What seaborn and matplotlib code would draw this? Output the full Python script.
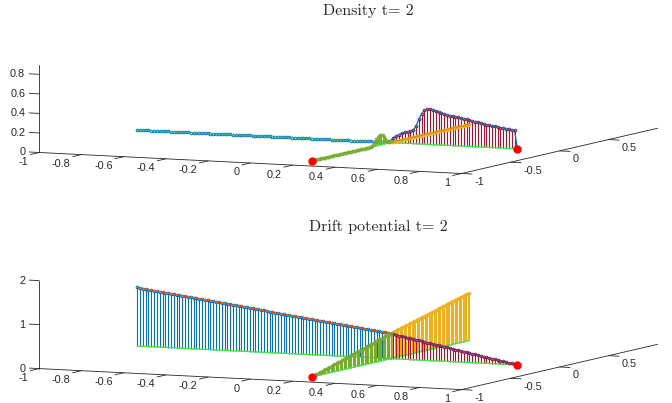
import numpy as np
import matplotlib
matplotlib.use("Agg")
import matplotlib.pyplot as plt
import matplotlib.transforms as mtransforms
from mpl_toolkits.mplot3d import proj3d
from mpl_toolkits.mplot3d.art3d import Line3DCollection
import seaborn as sns

sns.set_theme(style="white")
plt.rcParams["font.family"] = ["Liberation Sans", "DejaVu Sans"]

# star graph: junction at (0.2, 0), four edges
blue_x = np.linspace(-1.0, 0.2, 91)      # (-1,0) -> junction
red_x = np.linspace(0.2, 0.8, 46)        # junction -> exit (0.8,0)
green_y = np.linspace(-0.8, 0.0, 61)     # exit (0.2,-0.8) -> junction
orange_y = np.linspace(0.0, 0.8, 61)     # junction -> (0.2,0.8)
exit_x = [0.2, 0.8]
exit_y = [-0.8, 0.0]

# density at t = 2
dens_blue = [0, 0, 0, 0, 0, 0, 0, 0, 0, 0, 0, 0, 0,
             0, 0, 0, 0, 0, 0, 0, 0, 0, 0, 0, 0, 0,
             0, 0, 0, 0, 0, 0, 0, 0, 0, 0, 0, 0, 0,
             0, 0, 0, 0, 0, 0, 0, 0, 0, 0, 0, 0, 0,
             0, 0, 0, 0, 0, 0, 0, 0, 0, 0, 0, 0, 0,
             0, 0, 0, 0, 0, 0, 0, 0, 0, 0, 0, 0, 0,
             0, 0, 0, 0, 0, 0, 0, 0, 0, 0.005, 0.01, 0.015, 0.02]
dens_red = [0.02, 0.05, 0.07, 0.085, 0.10, 0.11, 0.12, 0.125, 0.135, 0.18,
            0.25, 0.31, 0.35, 0.36, 0.36, 0.355, 0.345, 0.335, 0.325, 0.318,
            0.312, 0.305, 0.30, 0.295, 0.29, 0.285, 0.28, 0.274, 0.268, 0.262,
            0.256, 0.25, 0.244, 0.238, 0.232, 0.226, 0.221, 0.217, 0.213, 0.209,
            0.205, 0.201, 0.197, 0.193, 0.19, 0.0]
dens_green = [0, 0, 0, 0, 0, 0, 0, 0, 0, 0,
              0, 0, 0, 0, 0, 0, 0, 0, 0, 0,
              0, 0, 0, 0, 0, 0, 0, 0, 0, 0,
              0, 0, 0, 0, 0, 0, 0, 0, 0, 0,
              0, 0, 0, 0, 0, 0, 0.01, 0.025, 0.045, 0.065,
              0.08, 0.095, 0.10, 0.10, 0.09, 0.07, 0.045, 0.02, 0.01, 0.01,
              0.02]
dens_orange = [0, 0, 0, 0, 0, 0, 0, 0, 0, 0,
               0, 0, 0, 0, 0, 0, 0, 0, 0, 0,
               0, 0, 0, 0, 0, 0, 0, 0, 0, 0,
               0, 0, 0, 0, 0, 0, 0, 0, 0, 0,
               0, 0, 0, 0, 0, 0, 0, 0, 0, 0,
               0, 0, 0, 0, 0, 0, 0, 0, 0, 0,
               0]

# drift potential at t = 2
pot_blue = [1.330, 1.322, 1.313, 1.305, 1.296, 1.288, 1.279, 1.271, 1.262, 1.254,
            1.246, 1.237, 1.229, 1.220, 1.212, 1.203, 1.195, 1.186, 1.178, 1.170,
            1.161, 1.153, 1.144, 1.136, 1.127, 1.119, 1.110, 1.102, 1.094, 1.085,
            1.077, 1.068, 1.060, 1.051, 1.043, 1.034, 1.026, 1.018, 1.009, 1.001,
            0.992, 0.984, 0.975, 0.967, 0.958, 0.950, 0.942, 0.933, 0.925, 0.916,
            0.908, 0.899, 0.891, 0.882, 0.874, 0.866, 0.857, 0.849, 0.840, 0.832,
            0.823, 0.815, 0.806, 0.798, 0.790, 0.781, 0.773, 0.764, 0.756, 0.747,
            0.739, 0.730, 0.722, 0.714, 0.705, 0.697, 0.688, 0.680, 0.671, 0.663,
            0.654, 0.646, 0.638, 0.629, 0.621, 0.612, 0.604, 0.595, 0.587, 0.578,
            0.570]
pot_red = [0.570, 0.557, 0.545, 0.532, 0.519, 0.507, 0.494, 0.481, 0.469, 0.456,
           0.443, 0.431, 0.418, 0.405, 0.393, 0.380, 0.367, 0.355, 0.342, 0.329,
           0.317, 0.304, 0.291, 0.279, 0.266, 0.253, 0.241, 0.228, 0.215, 0.203,
           0.190, 0.177, 0.165, 0.152, 0.139, 0.127, 0.114, 0.101, 0.089, 0.076,
           0.063, 0.051, 0.038, 0.025, 0.013, 0.000]
pot_green = [0.000, 0.010, 0.019, 0.029, 0.038, 0.048, 0.057, 0.067, 0.076, 0.086,
             0.095, 0.105, 0.114, 0.124, 0.133, 0.143, 0.152, 0.162, 0.171, 0.181,
             0.190, 0.200, 0.209, 0.219, 0.228, 0.238, 0.247, 0.257, 0.266, 0.276,
             0.285, 0.295, 0.304, 0.314, 0.323, 0.333, 0.342, 0.352, 0.361, 0.371,
             0.380, 0.390, 0.399, 0.409, 0.418, 0.428, 0.437, 0.447, 0.456, 0.466,
             0.475, 0.485, 0.494, 0.504, 0.513, 0.523, 0.532, 0.542, 0.551, 0.561,
             0.570]
pot_orange = [0.570, 0.579, 0.587, 0.596, 0.604, 0.613, 0.621, 0.630, 0.638, 0.647,
              0.655, 0.664, 0.672, 0.681, 0.689, 0.698, 0.706, 0.715, 0.723, 0.732,
              0.740, 0.749, 0.757, 0.766, 0.774, 0.783, 0.791, 0.800, 0.808, 0.817,
              0.825, 0.834, 0.842, 0.851, 0.859, 0.868, 0.876, 0.885, 0.893, 0.902,
              0.910, 0.919, 0.927, 0.936, 0.944, 0.953, 0.961, 0.970, 0.978, 0.987,
              0.995, 1.004, 1.012, 1.021, 1.029, 1.038, 1.046, 1.055, 1.063, 1.072,
              1.080]

x_ticks = [-1, -0.8, -0.6, -0.4, -0.2, 0, 0.2, 0.4, 0.6, 0.8, 1]
x_tick_labels = ["-1", "-0.8", "-0.6", "-0.4", "-0.2", "0", "0.2", "0.4", "0.6", "0.8", "1"]
y_ticks = [-1, -0.5, 0, 0.5]
y_tick_labels = ["-1", "-0.5", "0", "0.5"]
z_ticks_dens = [0, 0.2, 0.4, 0.6, 0.8]
z_labels_dens = ["0", "0.2", "0.4", "0.6", "0.8"]
z_ticks_pot = [0, 1, 2]
z_labels_pot = ["0", "1", "2"]

c_blue, c_red, c_green, c_orange = "#0072BD", "#A2142F", "#77AC30", "#EDB120"
c_base = "#3ee63e"
c_axis = "#262626"

fig = plt.figure(figsize=(6.72, 4.03), dpi=100)
W = 645.0


def make_axes(cx, cy, zmax):
    left = cx - 0.5135 * W
    bottom = (403 - cy) - 0.5135 * W
    ax = fig.add_axes([left / 672, bottom / 403, W / 672, W / 403],
                      projection="3d", computed_zorder=False)
    ax.set_proj_type("ortho")
    ax.view_init(elev=6.15, azim=-65.1)
    ax.set_box_aspect((1, 1, 0.19), zoom=1.0)
    ax.set_xlim(-1, 1)
    ax.set_ylim(-1, 1)
    ax.set_zlim(0, zmax)
    ax.set_axis_off()
    ax.patch.set_facecolor("none")
    return ax


def tick_label(ax, x, y, z, s, dx, dy, ha):
    # place the label in the projected 2D plane of the 3D axes
    px, py, _ = proj3d.proj_transform(x, y, z, ax.get_proj())
    tr = mtransforms.offset_copy(ax.transData, fig=fig, x=dx, y=dy, units="dots")
    ax.text2D(px, py, s, transform=tr, ha=ha, va="center", fontsize=7.8, color=c_axis)


def frame(ax, zmax, zt, zl):
    kw = dict(color=c_axis, lw=0.6, zorder=1)
    ax.plot([-1, 1], [-1, -1], [0, 0], **kw)
    ax.plot([1, 1], [-1, 1], [0, 0], **kw)
    ax.plot([-1, -1], [-1, -1], [0, zmax], **kw)
    for t, s in zip(x_ticks, x_tick_labels):
        ax.plot([t, t], [-1, -1.09], [0, 0], **kw)
        tick_label(ax, t, -1, 0, s, -11, -9.5, "right")
    for t, s in zip(y_ticks, y_tick_labels):
        ax.plot([1, 1.05], [t, t], [0, 0], **kw)
        tick_label(ax, 1, t, 0, s, 13, -8.5, "left")
    for t, s in zip(zt, zl):
        ax.plot([-1, -1.047], [-1, -1], [t, t], **kw)
        tick_label(ax, -1, -1, t, s, -14, 0, "right")


def edge(ax, xs, ys, zs, c_stem, c_line, zo):
    xs = np.asarray(xs, float)
    ys = np.asarray(ys, float)
    zs = np.asarray(zs, float)
    segs = [[(a, b, 0.0), (a, b, c)] for a, b, c in zip(xs, ys, zs)]
    ax.add_collection3d(Line3DCollection(segs, colors=c_stem, linewidths=0.8, zorder=zo))
    ax.plot(xs, ys, np.zeros_like(zs), color=c_base, lw=1.0, zorder=zo + 0.1)
    ax.plot(xs, ys, zs, ls="none", marker="o", ms=1.9, mfc="none", mec=c_stem, mew=0.7,
            zorder=zo + 0.2)
    ax.plot(xs, ys, zs, color=c_line, lw=0.9, zorder=zo + 0.3)


# density
ax1 = make_axes(348.4, 96.4, 0.9)
frame(ax1, 0.9, z_ticks_dens, z_labels_dens)
edge(ax1, blue_x, np.zeros(len(blue_x)), dens_blue, c_blue, "#3aa6a0", 2)
edge(ax1, red_x, np.zeros(len(red_x)), dens_red, c_red, c_blue, 3)
edge(ax1, np.full(len(green_y), 0.2), green_y, dens_green, c_green, c_green, 5)
edge(ax1, np.full(len(orange_y), 0.2), orange_y, dens_orange, c_orange, "#D98A1C", 4)
ax1.plot(exit_x, exit_y, [0, 0], ls="none", marker="o", ms=5, color="red", zorder=10)

# drift potential
ax2 = make_axes(348.4, 312.5, 2.0)
frame(ax2, 2.0, z_ticks_pot, z_labels_pot)
edge(ax2, np.full(len(orange_y), 0.2), orange_y, pot_orange, c_orange, c_orange, 2)
edge(ax2, blue_x, np.zeros(len(blue_x)), pot_blue, c_blue, "#D95319", 3)
edge(ax2, red_x, np.zeros(len(red_x)), pot_red, c_red, "#5a3a8e", 4)
edge(ax2, np.full(len(green_y), 0.2), green_y, pot_green, c_green, c_green, 5)
ax2.plot(exit_x, exit_y, [0, 0], ls="none", marker="o", ms=5, color="red", zorder=10)

fig.text(368 / 672, 1 - 11 / 403, "Density t= 2", ha="center", va="center",
         fontfamily="cmr10", fontsize=11.5, color="#262626")
fig.text(378.6 / 672, 1 - 227 / 403, "Drift potential t= 2", ha="center", va="center",
         fontfamily="cmr10", fontsize=11.5, color="#262626")

fig.savefig("out.png", dpi=100)
